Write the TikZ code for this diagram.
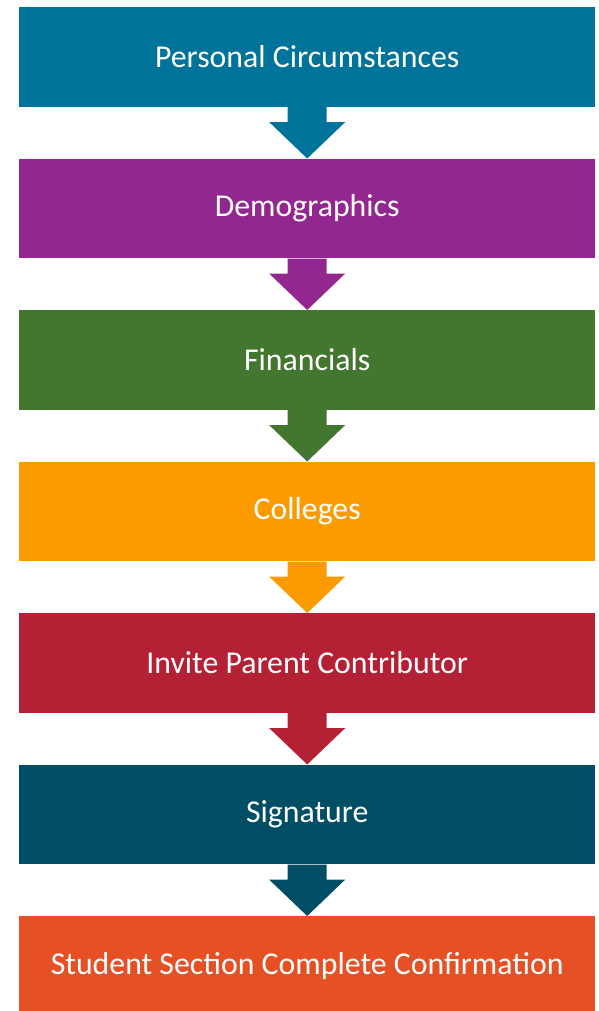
\documentclass[tikz,border=0pt]{standalone}
\usepackage{fontspec}
\setmainfont{Carlito}
\definecolor{c1}{HTML}{00739A}
\definecolor{c2}{HTML}{92278F}
\definecolor{c3}{HTML}{43762E}
\definecolor{c4}{HTML}{FB9B00}
\definecolor{c5}{HTML}{B42134}
\definecolor{c6}{HTML}{004D66}
\definecolor{c7}{HTML}{E55025}
\begin{document}
\begin{tikzpicture}[x=1pt,y=-1pt,
  stepbox/.style={rectangle,minimum width=576pt,minimum height=99.7pt,inner sep=0pt,anchor=north west,text=white,font=\fontsize{31.8}{34}\selectfont},
]
\useasboundingbox (0,0) rectangle (598,1011);
\foreach \i/\c/\t in {0/c1/Personal Circumstances,1/c2/Demographics,2/c3/Financials,3/c4/Colleges,4/c5/Invite Parent Contributor,5/c6/Signature,6/c7/Student Section Complete Confirmation}{
  \node[stepbox,fill=\c] (b\i) at (19,7+151.5*\i) {\t};
}
\foreach \i/\c in {0/c1,1/c2,2/c3,3/c4,4/c5,5/c6}{
  \pgfmathtruncatemacro{\j}{\i+1}
  \fill[\c] ([xshift=-19.5pt]b\i.south) -- ([xshift=19.5pt]b\i.south)
    -- ([xshift=19.5pt,yshift=-15pt]b\i.south) -- ([xshift=38pt,yshift=-15pt]b\i.south)
    -- (b\j.north) -- ([xshift=-38pt,yshift=-15pt]b\i.south)
    -- ([xshift=-19.5pt,yshift=-15pt]b\i.south) -- cycle;
}
\end{tikzpicture}
\end{document}
